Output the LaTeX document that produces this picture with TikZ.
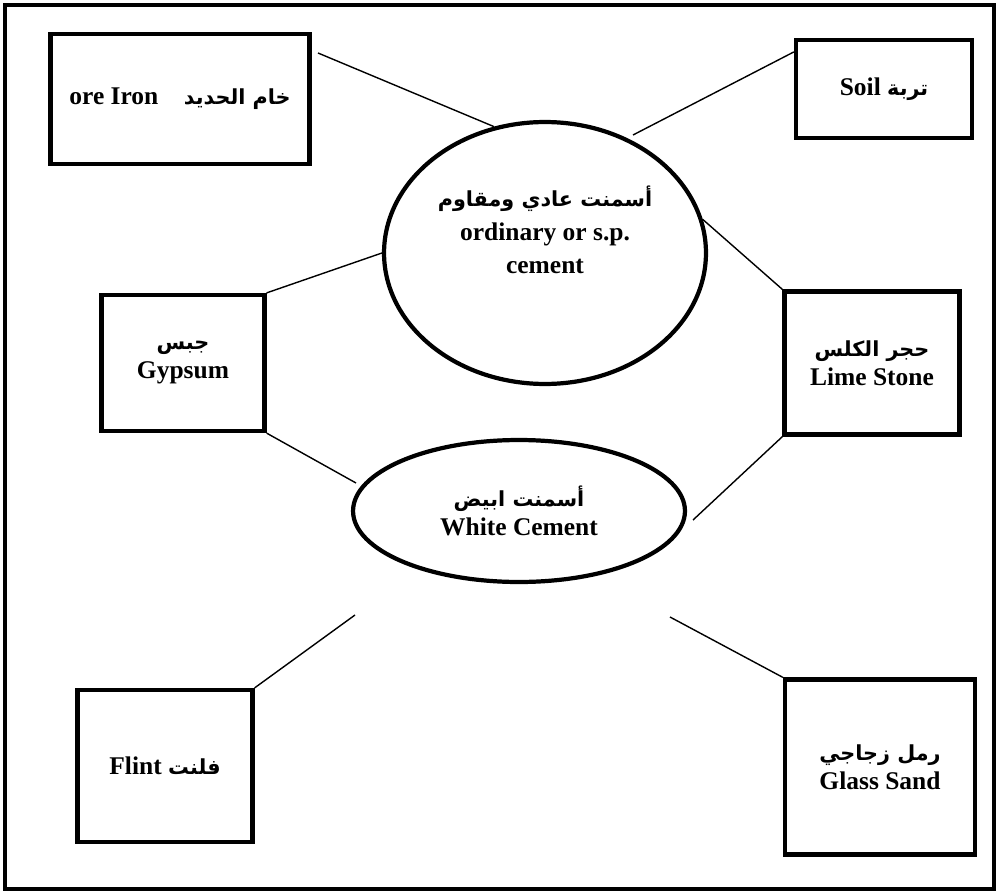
\documentclass[tikz,border=0pt]{standalone}
\usepackage{fontspec}
\setmainfont{Liberation Serif}
\newfontfamily\arabicfont[Script=Arabic]{DejaVu Sans}
\TeXXeTstate=1
\usetikzlibrary{shapes,calc}
\newcommand{\ar}[1]{{\arabicfont\bfseries\fontsize{11.8}{15}\selectfont\beginR #1\endR}}

\begin{document}
\begin{tikzpicture}[x=0.02cm, y=-0.02cm, font=\bfseries\fontsize{14.5}{16.5}\selectfont]

    % Define block styles
    \tikzstyle{block} = [rectangle, draw, line width=2.4pt, align=center]
    \tikzstyle{bubble} = [ellipse, draw, line width=2.4pt]
    \tikzstyle{line} = [draw, line width=0.8pt]

    \useasboundingbox (0,0) rectangle (1000,895);
    \draw [line width=2.4pt] (5,5) rectangle (994,889);

    % Place nodes
    \node [bubble, minimum width=6.44cm, minimum height=5.24cm] (ordinary) at (545,253) {};
    \node [align=center, font=\bfseries\fontsize{14.5}{19}\selectfont] (ordtext) at (545,230) {\ar{أسمنت عادي ومقاوم}\\ordinary or s.p.\\cement};
    \node [bubble, minimum width=6.64cm, minimum height=2.84cm, align=center] (white) at (519,511) {\ar{أسمنت ابيض}\\White Cement};

    \node [block, minimum width=5.18cm, minimum height=2.6cm] (iron) at (180,99) {ore Iron\quad\ar{خام الحديد}};
    \node [block, minimum width=3.52cm, minimum height=1.96cm] (soil) at (884,89) {Soil \ar{تربة}};
    \node [block, minimum width=3.26cm, minimum height=2.72cm] (gypsum) at (183,363) {\ar{جبس}\\Gypsum};
    \node [block, minimum width=3.5cm, minimum height=2.86cm] (lime) at (872,363) {\ar{حجر الكلس}\\Lime Stone};
    \node [block, minimum width=3.5cm, minimum height=3.04cm] (flint) at (165,766) {Flint \ar{فلنت}};
    \node [block, minimum width=3.8cm, minimum height=3.5cm] (glass) at (880,767) {\ar{رمل زجاجي}\\Glass Sand};

    % Free ends
    \coordinate (ironfree) at (318,53);
    \coordinate (soilfree) at (633,135);
    \coordinate (gypfree) at (356,483);
    \coordinate (limefree) at (693,520);
    \coordinate (flintfree) at (355,615);
    \coordinate (glassfree) at (670,617);

    % Draw edges
    \path [line] (ironfree) -- (ordinary.112);
    \path [line] (soilfree) -- ($(soil.north west)+(0,14)$);
    \path [line] (ordinary.12) -- (lime.north west);
    \path [line] (gypsum.north east) -- (ordinary.west);
    \path [line] (gypsum.south east) -- (gypfree);
    \path [line] (lime.south west) -- (limefree);
    \path [line] (flintfree) -- (flint.north east);
    \path [line] (glassfree) -- (glass.north west);

\end{tikzpicture}
\end{document}
